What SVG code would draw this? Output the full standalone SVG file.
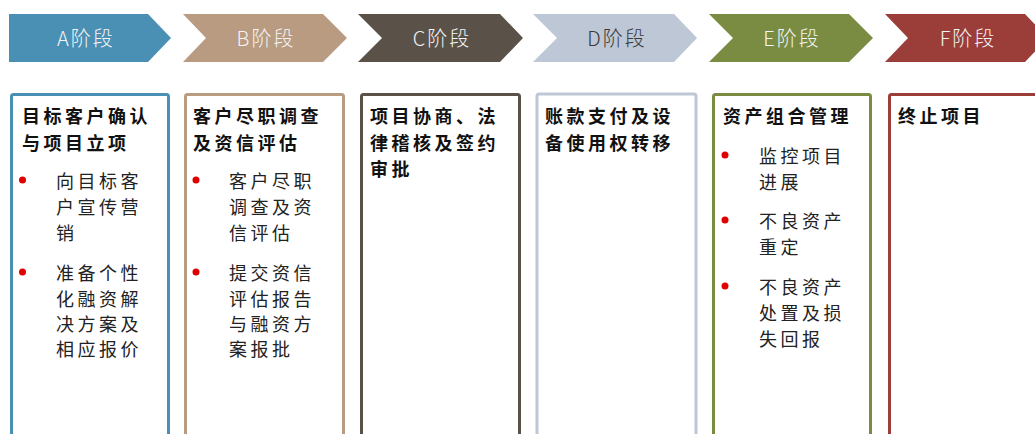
<svg xmlns="http://www.w3.org/2000/svg" width="1035" height="434" viewBox="0 0 1035 434">
<style>
.lbl{font-family:"Noto Sans CJK SC","Liberation Sans",sans-serif;font-size:20px;font-weight:300;letter-spacing:2px;fill:#F4F4F4;text-anchor:middle;dominant-baseline:central}
.ttl{font-family:"Noto Sans CJK SC","Liberation Serif",serif;font-size:18px;font-weight:bold;fill:#111;letter-spacing:3.5px;dominant-baseline:central}
.txt{font-family:"Noto Sans CJK SC","Liberation Serif",serif;font-size:18px;fill:#222;letter-spacing:3.5px;dominant-baseline:central}
.dot{fill:#E00000}
.box{fill:#FFFFFF;stroke-width:3}
</style>
<rect width="1035" height="434" fill="#FFFFFF"/>
<g id="stage-A">
<path d="M9,14 H148 L171,38 L148,62 H9 Z" fill="#4A90B4"/>
<text class="lbl" x="86" y="37">A阶段</text>
</g>
<g id="stage-B">
<path d="M183,14 H323 L347,38 L323,62 H183 L206,38 Z" fill="#B89B80"/>
<text class="lbl" x="266" y="37">B阶段</text>
</g>
<g id="stage-C">
<path d="M358,14 H500 L523,38 L500,62 H358 L382,38 Z" fill="#5A5249"/>
<text class="lbl" x="442" y="37">C阶段</text>
</g>
<g id="stage-D">
<path d="M533,14 H674 L697,38 L674,62 H533 L557,38 Z" fill="#BDC7D6"/>
<text class="lbl" x="617" y="37" style="fill:#3A3A3A">D阶段</text>
</g>
<g id="stage-E">
<path d="M709,14 H849 L873,38 L849,62 H709 L733,38 Z" fill="#7A8C42"/>
<text class="lbl" x="792" y="37">E阶段</text>
</g>
<g id="stage-F">
<path d="M885,14 H1025 L1048,38 L1025,62 H885 L908,38 Z" fill="#9B3D38"/>
<text class="lbl" x="968" y="37">F阶段</text>
</g>

<g id="box-A">
<rect class="box" x="11.5" y="94.5" width="157" height="360" rx="2" stroke="#4A90B4"/>
<text class="ttl" x="22" y="115">目标客户确认</text>
<text class="ttl" x="22" y="142">与项目立项</text>
<circle class="dot" cx="22.5" cy="180" r="3.5"/>
<text class="txt" x="56" y="180">向目标客</text>
<text class="txt" x="56" y="206">户宣传营</text>
<text class="txt" x="56" y="232">销</text>
<circle class="dot" cx="22.5" cy="272" r="3.5"/>
<text class="txt" x="56" y="272">准备个性</text>
<text class="txt" x="56" y="298">化融资解</text>
<text class="txt" x="56" y="323">决方案及</text>
<text class="txt" x="56" y="348">相应报价</text>
</g>
<g id="box-B">
<rect class="box" x="185.5" y="94.5" width="158" height="360" rx="2" stroke="#B89B80"/>
<text class="ttl" x="193" y="115">客户尽职调查</text>
<text class="ttl" x="193" y="142">及资信评估</text>
<circle class="dot" cx="196" cy="180" r="3.5"/>
<text class="txt" x="229" y="180">客户尽职</text>
<text class="txt" x="229" y="206">调查及资</text>
<text class="txt" x="229" y="232">信评估</text>
<circle class="dot" cx="196" cy="272" r="3.5"/>
<text class="txt" x="229" y="272">提交资信</text>
<text class="txt" x="229" y="298">评估报告</text>
<text class="txt" x="229" y="323">与融资方</text>
<text class="txt" x="229" y="348">案报批</text>
</g>
<g id="box-C">
<rect class="box" x="361.5" y="94.5" width="158" height="360" rx="2" stroke="#5A5249"/>
<text class="ttl" x="370" y="115">项目协商、法</text>
<text class="ttl" x="370" y="142">律稽核及签约</text>
<text class="ttl" x="370" y="168">审批</text>
</g>
<g id="box-D">
<rect class="box" x="537" y="94" width="159" height="360" rx="2" stroke="#BDC7D6" stroke-width="2"/>
<text class="ttl" x="545" y="115">账款支付及设</text>
<text class="ttl" x="545" y="142">备使用权转移</text>
</g>
<g id="box-E">
<rect class="box" x="713.5" y="94.5" width="157" height="360" rx="2" stroke="#7A8C42"/>
<text class="ttl" x="723" y="115">资产组合管理</text>
<circle class="dot" cx="725" cy="155" r="3.5"/>
<text class="txt" x="759" y="155">监控项目</text>
<text class="txt" x="759" y="181">进展</text>
<circle class="dot" cx="725" cy="220" r="3.5"/>
<text class="txt" x="759" y="220">不良资产</text>
<text class="txt" x="759" y="246">重定</text>
<circle class="dot" cx="725" cy="286" r="3.5"/>
<text class="txt" x="759" y="286">不良资产</text>
<text class="txt" x="759" y="312">处置及损</text>
<text class="txt" x="759" y="338">失回报</text>
</g>
<g id="box-F">
<rect class="box" x="889.5" y="94.5" width="160" height="360" rx="2" stroke="#9B3D38"/>
<text class="ttl" x="898" y="115">终止项目</text>
</g>
</svg>
